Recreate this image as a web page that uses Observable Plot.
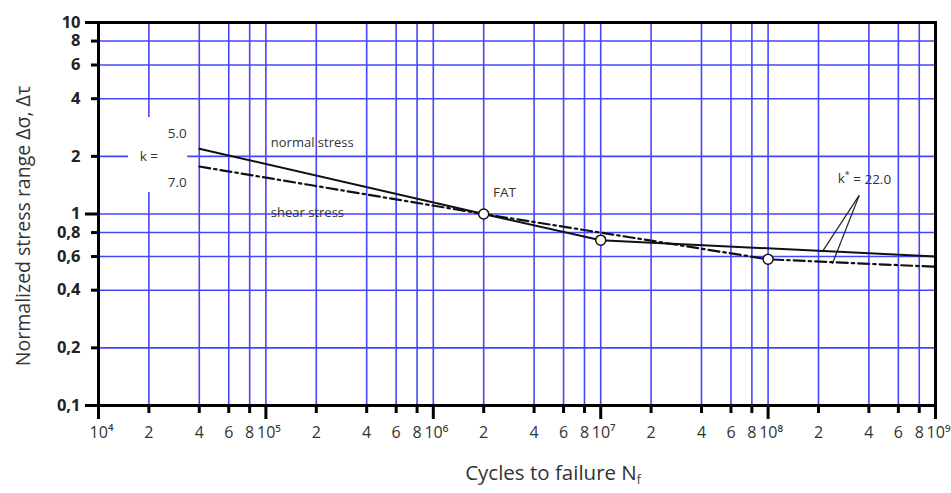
<!DOCTYPE html>
<html><head><meta charset="utf-8">
<script src="https://cdn.jsdelivr.net/npm/d3@7"></script>
<script src="https://cdn.jsdelivr.net/npm/@observablehq/plot@0.6"></script>
<style>body{margin:0;background:#fff}</style>
</head><body><div id="chart"></div>
<script>
// Series
const normalN = [4e4, 2e6, 1e7, 1e9];
const normalS = [2.19, 1.0, 0.73, 0.6];
const shearN = [4e4, 2e6, 1e8, 1e9];
const shearS = [1.77, 1.0, 0.58, 0.53];
const markerN = [2e6, 1e7, 1e8];
const markerS = [1.0, 0.73, 0.58];

// Ticks and labels
const xMajorTicks = [1e4, 1e5, 1e6, 1e7, 1e8, 1e9];
const xMajorLabels = ["10⁴", "10⁵", "10⁶", "10⁷", "10⁸", "10⁹"];
const xMinorTicks = [2e4,4e4,6e4,8e4, 2e5,4e5,6e5,8e5, 2e6,4e6,6e6,8e6, 2e7,4e7,6e7,8e7, 2e8,4e8,6e8,8e8];
const xMinorLabels = ["2","4","6","8", "2","4","6","8", "2","4","6","8", "2","4","6","8", "2","4","6","8"];
const yMajorTicks = [0.1, 1, 10];
const yMajorLabels = ["0,1", "1", "10"];
const yMinorTicks = [0.2, 0.4, 0.6, 0.8, 2, 4, 6, 8];
const yMinorLabels = ["0,2", "0,4", "0,6", "0,8", "2", "4", "6", "8"];

// Annotations (data coordinates)
const textLabels = ["k =", "5.0", "7.0", "normal stress", "shear stress", "FAT", "k* = 22.0"];
const textN = [2e4, 2.95e4, 2.95e4, 1.07e5, 1.07e5, 2.66e6, 3.76e8];
const textS = [2.0, 2.63, 1.46, 2.36, 1.02, 1.3, 1.53];
const textAnchors = ["middle", "middle", "middle", "start", "start", "middle", "middle"];
const leaderFromN = [3.5e8, 3.5e8];
const leaderFromS = [1.25, 1.25];
const leaderToN = [2.1e8, 2.42e8];
const leaderToS = [0.632, 0.55];
const kBoxN = [1.51e4, 3.41e4];
const kBoxS = [1.295, 3.19];

const W = 951, H = 493, ML = 98, MR = 16, MT = 22, MB = 88;
const FW = W - ML - MR, FH = H - MT - MB;

const rows = (a, b) => a.map((n, i) => ({n, s: b[i]}));
const lab = (ticks, labels) => { const m = new Map(ticks.map((t, i) => [t, labels[i]])); return d => m.get(d); };
const texts = textLabels.map((t, i) => ({t, n: textN[i], s: textS[i], a: textAnchors[i]}));
const leaders = leaderFromN.map((n, i) => ({n1: n, s1: leaderFromS[i], n2: leaderToN[i], s2: leaderToS[i]}));
const gridBlue = "#4545ff";

const xTickMark = (ticks, len) => Plot.ruleX(ticks, {x: d => d, insetTop: FH - len, dy: len, stroke: "black", strokeWidth: 3});
const yTickMark = (ticks, len) => Plot.ruleY(ticks, {y: d => d, insetRight: FW - len, dx: -len, stroke: "black", strokeWidth: 3});

const chart = Plot.plot({
  width: W, height: H,
  marginLeft: ML, marginRight: MR, marginTop: MT, marginBottom: MB,
  style: {fontFamily: "'Open Sans', sans-serif", fontSize: "13px", color: "#333", background: "white"},
  x: {type: "log", domain: [1e4, 1e9], axis: null},
  y: {type: "log", domain: [0.1, 10], axis: null},
  marks: [
    Plot.ruleX(xMinorTicks.concat(xMajorTicks), {x: d => d, stroke: gridBlue, strokeWidth: 1.6}),
    Plot.ruleY(yMinorTicks.concat(yMajorTicks), {y: d => d, stroke: gridBlue, strokeWidth: 1.6}),
    Plot.rect([0], {x1: kBoxN[0], x2: kBoxN[1], y1: kBoxS[0], y2: kBoxS[1], fill: "white"}),
    Plot.link(leaders, {x1: "n1", y1: "s1", x2: "n2", y2: "s2", stroke: "#222", strokeWidth: 1.2}),
    Plot.line(rows(normalN, normalS), {x: "n", y: "s", stroke: "#111", strokeWidth: 2}),
    Plot.line(rows(shearN, shearS), {x: "n", y: "s", stroke: "#111", strokeWidth: 2.2, strokeDasharray: "11,4,2.5,4"}),
    Plot.dot(rows(markerN, markerS), {x: "n", y: "s", r: 5, fill: "white", stroke: "#111", strokeWidth: 1.5}),
    Plot.text(texts, {x: "n", y: "s", text: "t", textAnchor: "start", filter: d => d.a === "start", fill: "#333", fontSize: 13}),
    Plot.text(texts, {x: "n", y: "s", text: "t", filter: d => d.a === "middle", fill: "#333", fontSize: 13.5}),
    Plot.frame({stroke: "black", strokeWidth: 3}),
    // x axis ticks and labels
    xTickMark(xMajorTicks, 14),
    xTickMark(xMinorTicks, 8),
    Plot.text(xMajorTicks, {x: d => d, text: lab(xMajorTicks, xMajorLabels), frameAnchor: "bottom", lineAnchor: "top", dy: 21, dx: 3, fill: "#333", fontSize: 16}),
    Plot.text(xMinorTicks, {x: d => d, text: lab(xMinorTicks, xMinorLabels), frameAnchor: "bottom", lineAnchor: "top", dy: 21, fill: "#333", fontSize: 16}),
    // y axis ticks and labels
    yTickMark(yMajorTicks, 13),
    yTickMark(yMinorTicks, 7),
    Plot.text(yMajorTicks.concat(yMinorTicks), {y: d => d, text: lab(yMajorTicks.concat(yMinorTicks), yMajorLabels.concat(yMinorLabels)), frameAnchor: "left", textAnchor: "end", dx: -18, fill: "#222", fontSize: 16.5, fontWeight: "bold"}),
    // titles
    Plot.text(["Cycles to failure N"], {frameAnchor: "bottom", textAnchor: "middle", dy: 74, dx: 36, fill: "#333", fontSize: 20.5}),
    Plot.text(["Normalized stress range Δσ, Δτ"], {frameAnchor: "left", textAnchor: "middle", rotate: -90, dx: -75, dy: 12, fill: "#333", fontSize: 19.5})
  ]
});

d3.select(chart).selectAll("text").each(function() {
  const el = d3.select(this);
  if (this.textContent === "Cycles to failure N") {
    el.append("tspan").attr("font-size", "12px").attr("dy", "0.35em").text("f");
  } else if (this.textContent === "k* = 22.0") {
    el.text(null);
    el.append("tspan").text("k");
    el.append("tspan").attr("font-size", "9px").attr("dy", "-0.6em").text("*");
    el.append("tspan").attr("dy", "0.45em").text(" = 22.0");
  }
});

document.getElementById("chart").appendChild(chart);
</script>
</body></html>
